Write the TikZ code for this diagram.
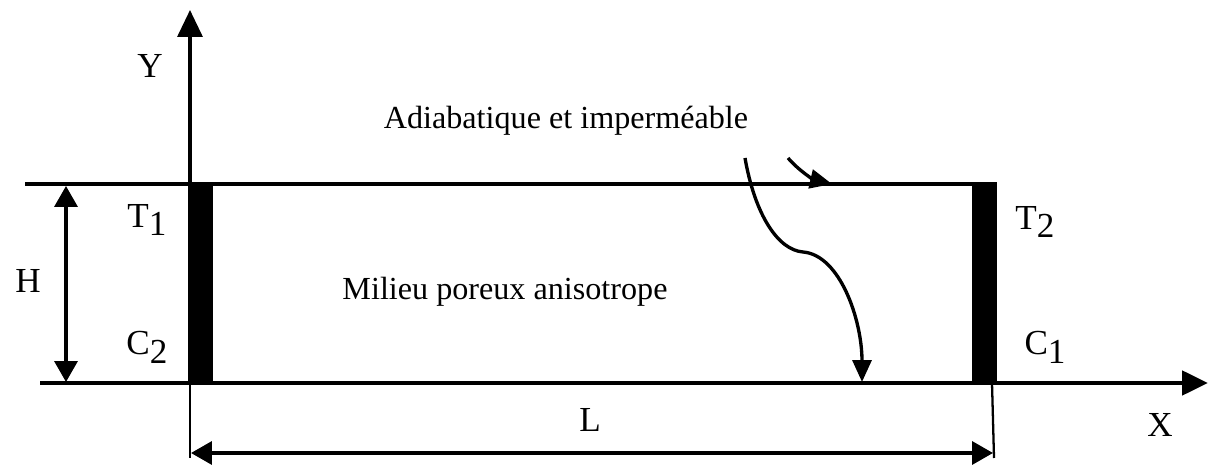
\documentclass[tikz,border=0pt]{standalone}
\usepackage{fontspec}
\setmainfont{Liberation Serif}
\usetikzlibrary{arrows.meta,positioning,calc}
\newcommand{\subidx}[2]{#1\raisebox{-0.55ex}{#2}}
\tikzset{
  wallbar/.style={fill=black, draw=none},
  edgeline/.style={line width=2.8pt, line cap=butt},
  thinline/.style={line width=1.3pt},
  axisarr/.style={-{Triangle[length=0.54cm,width=0.5cm]}, line width=1.9pt},
  xaxisarr/.style={-{Triangle[length=0.52cm,width=0.48cm]}, line width=2.8pt},
  dimarr/.style={{Triangle[length=0.42cm,width=0.46cm]}-{Triangle[length=0.42cm,width=0.46cm]}, line width=2pt},
  flowarr/.style={-{Triangle[length=0.44cm,width=0.38cm]}, line width=1.9pt},
  lbl/.style={font=\fontsize{20}{22}\selectfont, inner sep=0pt},
  txt/.style={font=\fontsize{18.3}{21}\selectfont, inner sep=0pt}}
\begin{document}
\begin{tikzpicture}[x=0.02cm, y=-0.02cm]
    \useasboundingbox (0,0) rectangle (1210,465);
    % corners of the porous layer
    \coordinate (tl) at (190,184);
    \coordinate (tr) at (997,184);
    \coordinate (bl) at (190,383);
    \coordinate (br) at (997,383);
    \coordinate (topstart) at (25,184);
    \coordinate (botstart) at (40,383);
    \coordinate (xtip) at (1208,383);
    \coordinate (ytip) at (190,10);
    % walls
    \fill[wallbar] (tl) rectangle (213,383);
    \fill[wallbar] (972,184) rectangle (br);
    \draw[edgeline] (topstart) -- (tr);
    \draw[xaxisarr] (botstart) -- (xtip);
    \draw[axisarr] (bl) -- (ytip);
    % dimensions
    \coordinate (lfoot) at (190,458);
    \coordinate (rfoot) at (994,458);
    \draw[thinline] (bl) -- (lfoot);
    \draw[thinline] (992,383) -- (rfoot);
    \coordinate (lleft) at (191,453);
    \coordinate (lright) at (993,453);
    \draw[dimarr] (lleft) -- (lright);
    \coordinate (hup) at (66,186);
    \coordinate (hdown) at (66,382);
    \draw[dimarr] (hup) -- (hdown);
    % labels
    \node[lbl] (ylabel) at (150,66) {Y};
    \node[lbl] (xlabel) at (1160,425) {X};
    \node[lbl] (hlabel) at (28,281) {H};
    \node[lbl] (llabel) at (590,420) {L};
    \node[lbl] (tone) at (147,220) {\subidx{T}{1}};
    \node[lbl] (ctwo) at (147,347) {\subidx{C}{2}};
    \node[lbl] (ttwo) at (1035,222) {\subidx{T}{2}};
    \node[lbl] (cone) at (1045,347) {\subidx{C}{1}};
    \node[txt] (adiab) at (566,121) {Adiabatique et imperméable};
    \node[txt] (milieu) at (505,292) {Milieu poreux anisotrope};
    % pointers to the walls
    \coordinate (pone) at (745,158);
    \coordinate (ptwo) at (788,158);
    \draw[flowarr] (pone) .. controls (755,215) and (778,250) .. (803,252)
                          .. controls (840,255) and (862,320) .. (862,382);
    \draw[flowarr] (ptwo) .. controls (800,172) and (815,180) .. (832,184);
  \end{tikzpicture}
\end{document}
